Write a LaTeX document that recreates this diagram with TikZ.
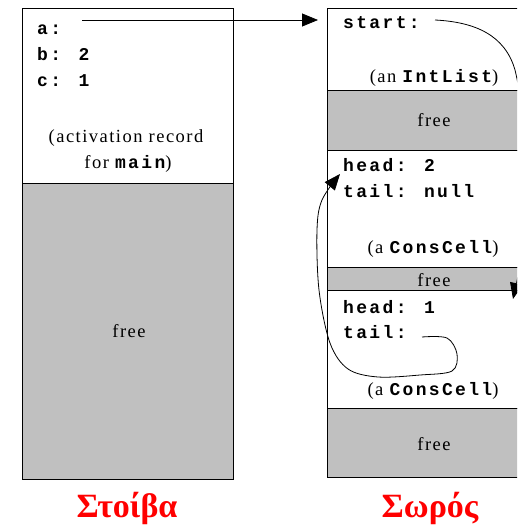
\documentclass[tikz,border=0pt]{standalone}
\usepackage{fontspec}
\setmainfont{Liberation Serif}[LetterSpace=8]
\newfontfamily\monofam{Liberation Mono}[LetterSpace=13]
\newfontfamily\titlefam{Liberation Serif}
\usetikzlibrary{arrows.meta}
\definecolor{freegray}{HTML}{C0C0C0}
\newcommand{\cw}[1]{{\fontsize{18}{20}\monofam\bfseries #1}}
\begin{document}
\begin{tikzpicture}[x=1pt,y=-1pt,
  box/.style={draw=black,line width=0.9pt},
  freebox/.style={box,fill=freegray},
  mono/.style={font=\fontsize{18}{20}\monofam\bfseries,inner sep=0pt,anchor=base west},
  serif/.style={font=\fontsize{18.5}{21}\selectfont,inner sep=0pt,anchor=base},
  title/.style={font=\fontsize{34}{38}\titlefam\bfseries,text=red,inner sep=0pt,anchor=base},
  ptr/.style={line width=0.8pt,-{Triangle[length=16pt,width=13pt]}},
]
\clip (0,0) rectangle (517,525);
\fill[white] (0,0) rectangle (517,525);
% stack
\draw[box,fill=white] (22,8) rectangle (233,183);
\draw[freebox] (22,183) rectangle (233,479);
% heap
\draw[box,fill=white] (327,8) rectangle (545,90);
\draw[freebox] (327,90) rectangle (545,150);
\draw[box,fill=white] (327,150) rectangle (545,267);
\draw[freebox] (327,267) rectangle (545,290);
\draw[box,fill=white] (327,290) rectangle (545,408);
\draw[freebox] (327,408) rectangle (545,477);

% stack texts
\node[mono] (a) at (37,34) {a:};
\node[mono] (b) at (37,60) {b: 2};
\node[mono] (c) at (37,86) {c: 1};
\node[serif] (act1) at (126,142) {(activation record};
\node[serif] (act2) at (128,168) {for \cw{main})};
\node[serif] (sfree) at (129,337) {free};

% heap texts
\node[mono] (start) at (343,28) {start:};
\node[serif] (intlist) at (434,82) {(an \cw{IntList})};
\node[serif] (hfree1) at (434,126) {free};
\node[mono] (head2) at (343,171) {head: 2};
\node[mono] (tail2) at (343,197) {tail: null};
\node[serif] (cons1) at (433,253) {(a \cw{ConsCell})};
\node[serif] (hfree2) at (434,286) {free};
\node[mono] (head1) at (343,313) {head: 1};
\node[mono] (tail1) at (343,338) {tail:};
\node[serif] (cons2) at (433,395) {(a \cw{ConsCell})};
\node[serif] (hfree3) at (434,450) {free};

% titles
\node[title] (stoiva) at (127,517) {Στοίβα};
\node[title] (soros) at (430,517) {Σωρός};

% pointers
\coordinate (aend) at (82,20);
\coordinate (objL) at (318,20);
\draw[ptr] (aend) -- (objL);

\coordinate (s0) at (435,20);
\coordinate (cell1) at (513,299);
\draw[ptr] (s0) .. controls (475,22) and (505,35) .. (515,70)
  .. controls (530,130) and (524,250) .. (cell1);

\coordinate (t0) at (422,337);
\coordinate (cell2) at (340,174);
\draw[ptr] plot[smooth,tension=0.55] coordinates {(t0) (447,338) (457,354) (452,371) (420,375) (378,377) (348,369) (330,343) (319,290) (317,230) (322,200) (cell2)};
\end{tikzpicture}
\end{document}
